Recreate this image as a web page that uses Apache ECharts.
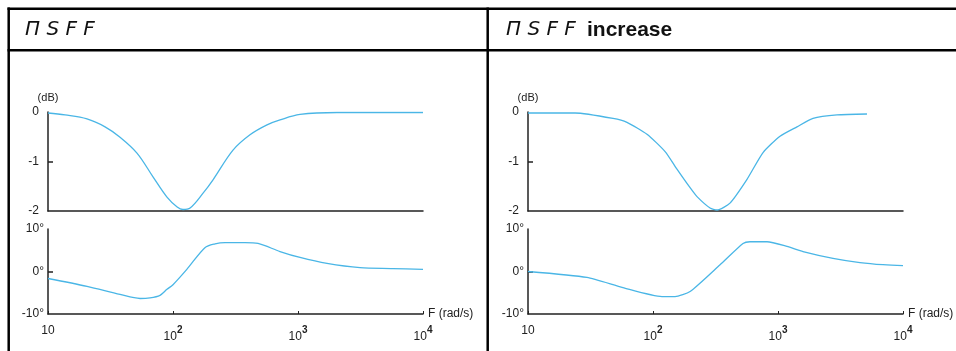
<!DOCTYPE html>
<html><head><meta charset="utf-8">
<script src="https://cdn.jsdelivr.net/npm/echarts@6/dist/echarts.min.js"></script>
<style>html,body{margin:0;padding:0;background:#fff}#c{width:956px;height:351px}</style>
</head><body><div id="c"></div>
<script>
// ---- text ----
const titleLeft = 'Π S F F';
const titleRightCode = 'Π S F F';
const titleRightWord = 'increase';
const magUnit = '(dB)';
const freqUnit = 'F (rad/s)';
const magTickValues = [0, -1, -2];
const phaseTickValues = [10, 0, -10];
const freqTickValues = [10, 100, 1000, 10000];

// ---- left panel: nSFF ----
const magFreqL = [10, 13.7, 20.5, 28.6, 37.7, 51.5, 69.2, 89.5, 108, 120, 137, 174, 209, 302, 413, 565, 718, 1038, 2051, 10000];
const magL = [-0.02, -0.06, -0.14, -0.30, -0.51, -0.83, -1.31, -1.72, -1.92, -1.97, -1.94, -1.64, -1.37, -0.77, -0.46, -0.26, -0.16, -0.05, -0.01, -0.01];
const phaseFreqL = [10, 20.5, 37.7, 54.5, 65.5, 78.7, 89.5, 100, 129, 180, 217, 261, 377, 479, 718, 1038, 1706, 3133, 5754, 10000];
const phaseL = [-1.65, -3.5, -5.4, -6.35, -6.2, -5.6, -4.2, -3.1, 0.5, 5.6, 6.5, 6.8, 6.8, 6.6, 4.7, 3.3, 1.9, 0.9, 0.7, 0.5];

// ---- right panel: nSFF increase ----
const magFreqR = [10, 23.8, 47.9, 61.9, 89.5, 125, 156, 198, 225, 286, 325, 413, 565, 759, 1038, 1419, 1905, 2965, 5152];
const magR = [-0.02, -0.02, -0.13, -0.21, -0.45, -0.80, -1.16, -1.53, -1.71, -1.94, -1.98, -1.84, -1.36, -0.82, -0.49, -0.30, -0.13, -0.06, -0.04];
const phaseFreqR = [10, 29.6, 57.5, 118, 150, 198, 344, 525, 597, 817, 1180, 1585, 2754, 4529, 6918, 10000];
const phaseR = [0, -1.4, -3.8, -5.9, -5.9, -4.7, 1.6, 6.6, 7.0, 7.0, 5.9, 4.7, 3.1, 2.1, 1.6, 1.4];

const INK = '#222';
const LINE = '#4ab6e6';
const FONT = '"Liberation Sans", Arial, sans-serif';

function pairs(xs, ys) { return xs.map((x, i) => [x, ys[i]]); }

function xAxisCfg(gridIndex, withLabels) {
  return {
    type: 'log', logBase: 10, gridIndex,
    min: freqTickValues[0], max: freqTickValues[freqTickValues.length - 1],
    axisLine: { show: true, onZero: false, lineStyle: { color: INK, width: 1.5 } },
    axisTick: { show: withLabels, inside: true, length: 3, lineStyle: { color: INK, width: 1 } },
    minorTick: { show: false },
    splitLine: { show: false },
    axisLabel: withLabels ? {
      show: true, margin: 11, color: INK, fontFamily: FONT, fontSize: 12,
      formatter: v => {
        const e = Math.round(Math.log10(v));
        return e === 1 ? '{b|10}' : '{b|10}{s|' + e + '}';
      },
      rich: {
        b: { fontSize: 12, fontFamily: FONT, color: INK, verticalAlign: 'bottom' },
        s: { fontSize: 10, fontFamily: FONT, color: INK, fontWeight: 'bold', verticalAlign: 'bottom', padding: [0, 0, 8, 0] }
      }
    } : { show: false },
    name: withLabels ? freqUnit : '',
    nameLocation: 'end', nameGap: 5,
    nameTextStyle: { color: INK, fontFamily: FONT, fontSize: 12 }
  };
}

function magYAxis(gridIndex) {
  return {
    type: 'value', gridIndex,
    min: magTickValues[2], max: magTickValues[0], interval: 1,
    axisLine: { show: true, onZero: false, lineStyle: { color: INK, width: 1.5 } },
    axisTick: { show: true, inside: true, length: 5, customValues: [magTickValues[1]], lineStyle: { color: INK, width: 1.5 } },
    splitLine: { show: false },
    axisLabel: { margin: 9, color: INK, fontFamily: FONT, fontSize: 12 },
    name: magUnit, nameLocation: 'end', nameGap: 9,
    nameTextStyle: { color: INK, fontFamily: FONT, fontSize: 11, align: 'center' }
  };
}

function phaseYAxis(gridIndex) {
  return {
    type: 'value', gridIndex,
    min: phaseTickValues[2], max: phaseTickValues[0], interval: 10,
    axisLine: { show: true, onZero: false, lineStyle: { color: INK, width: 1.5 } },
    axisTick: { show: true, inside: true, length: 5, customValues: [phaseTickValues[1]], lineStyle: { color: INK, width: 1.5 } },
    splitLine: { show: false },
    axisLabel: { margin: 4, color: INK, fontFamily: FONT, fontSize: 12, formatter: '{value}°' }
  };
}

function lineSeries(idx, data, smooth) {
  return {
    type: 'line', xAxisIndex: idx, yAxisIndex: idx, data,
    showSymbol: false, smooth, animation: false,
    lineStyle: { color: LINE, width: 1.3 }
  };
}

const chart = echarts.init(document.getElementById('c'), null, { renderer: 'canvas' });
chart.setOption({
  animation: false,
  backgroundColor: '#fff',
  grid: [
    { left: 48, top: 112, width: 375, height: 99, outerBoundsMode: 'none' },
    { left: 48, top: 229, width: 375, height: 85, outerBoundsMode: 'none' },
    { left: 528, top: 112, width: 375, height: 99, outerBoundsMode: 'none' },
    { left: 528, top: 229, width: 375, height: 85, outerBoundsMode: 'none' }
  ],
  xAxis: [xAxisCfg(0, false), xAxisCfg(1, true), xAxisCfg(2, false), xAxisCfg(3, true)],
  yAxis: [magYAxis(0), phaseYAxis(1), magYAxis(2), phaseYAxis(3)],
  series: [
    lineSeries(0, pairs(magFreqL, magL), 0.35),
    lineSeries(1, pairs(phaseFreqL, phaseL), 0.3),
    lineSeries(2, pairs(magFreqR, magR), 0.2),
    lineSeries(3, pairs(phaseFreqR, phaseR), 0.2)
  ],
  graphic: [
    { type: 'line', shape: { x1: 7.5, y1: 8.7, x2: 956, y2: 8.7 }, style: { stroke: '#000', lineWidth: 2.5 } },
    { type: 'line', shape: { x1: 7.5, y1: 50.3, x2: 956, y2: 50.3 }, style: { stroke: '#000', lineWidth: 2.5 } },
    { type: 'line', shape: { x1: 8.7, y1: 7.5, x2: 8.7, y2: 351 }, style: { stroke: '#000', lineWidth: 2.5 } },
    { type: 'line', shape: { x1: 487.7, y1: 7.5, x2: 487.7, y2: 351 }, style: { stroke: '#000', lineWidth: 2.5 } },
    { type: 'text', x: 25, y: 30, style: { text: titleLeft, fontFamily: '"DejaVu Sans"', fontStyle: 'italic', fontSize: 20, fill: '#111', textVerticalAlign: 'middle', verticalAlign: 'middle' } },
    { type: 'text', x: 506, y: 30, style: { text: titleRightCode, fontFamily: '"DejaVu Sans"', fontStyle: 'italic', fontSize: 20, fill: '#111', textVerticalAlign: 'middle', verticalAlign: 'middle' } },
    { type: 'text', x: 587, y: 30, style: { text: titleRightWord, fontFamily: FONT, fontWeight: 'bold', fontSize: 21, fill: '#111', textVerticalAlign: 'middle', verticalAlign: 'middle' } }
  ]
});
</script>
</body></html>
